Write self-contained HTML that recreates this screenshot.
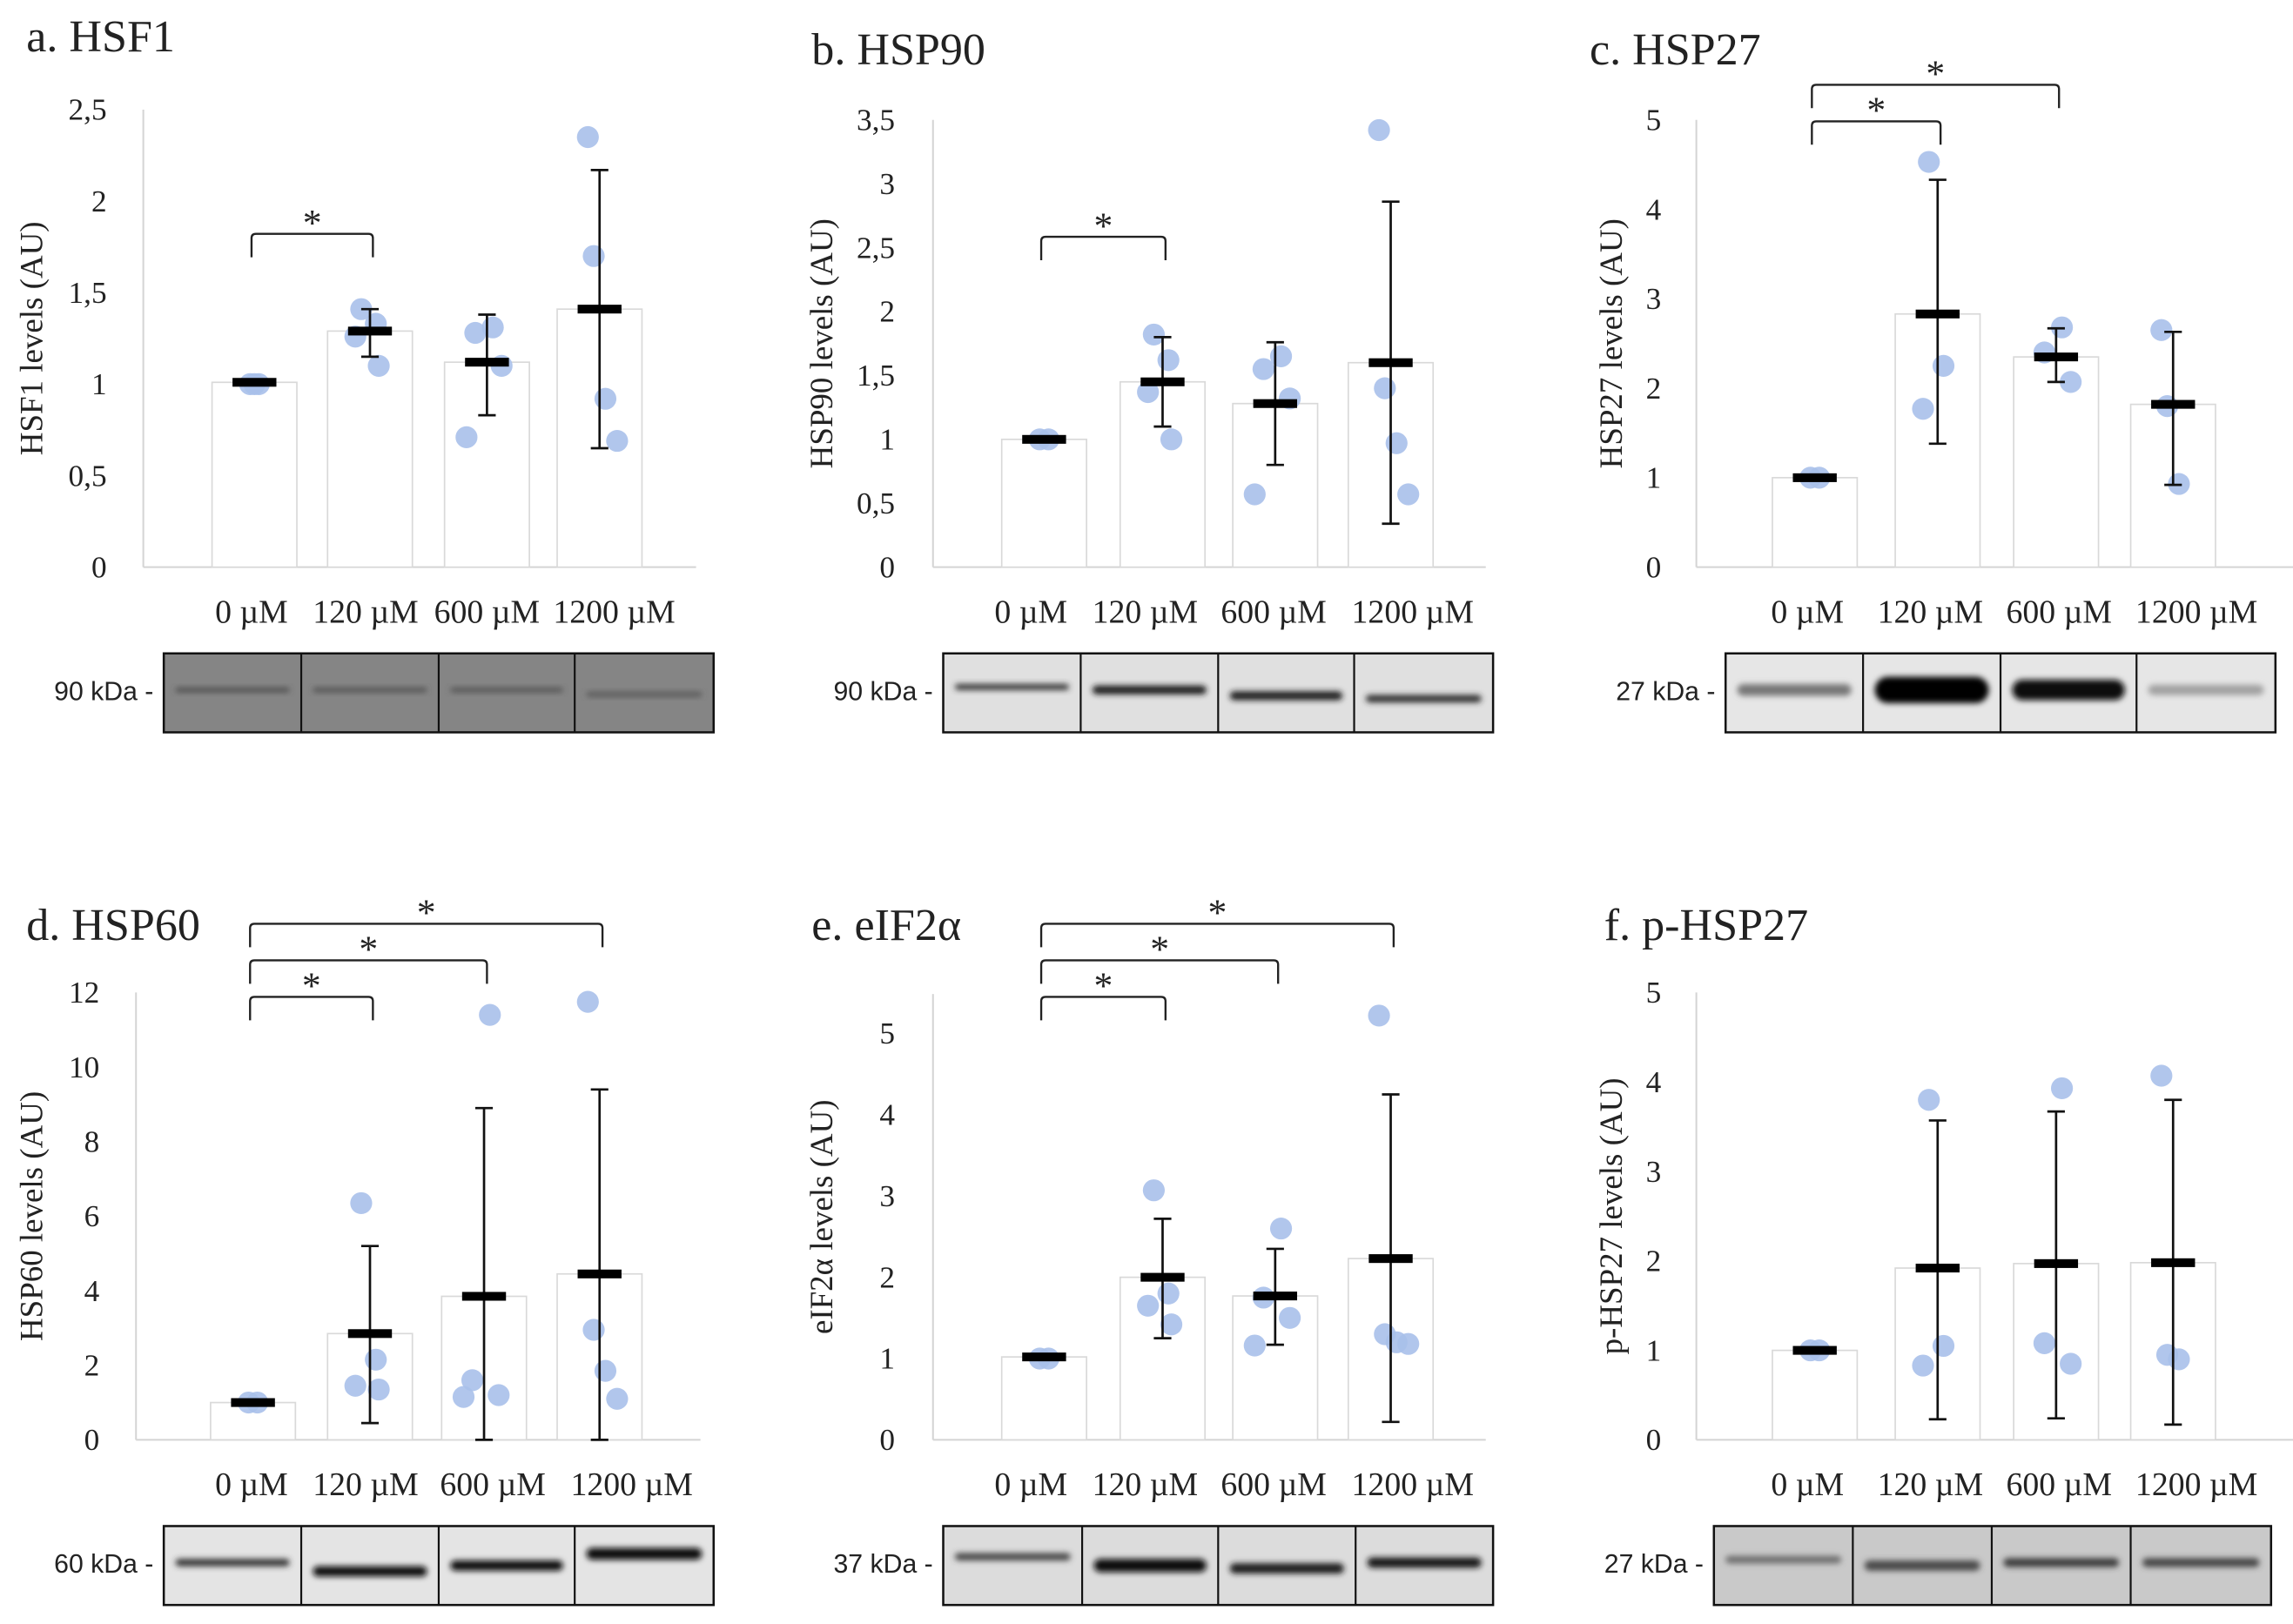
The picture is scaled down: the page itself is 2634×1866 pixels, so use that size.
<!DOCTYPE html>
<html><head><meta charset="utf-8"><style>
html,body{margin:0;padding:0;background:#fff;}
svg{display:block;}
text{font-family:"Liberation Serif",serif;fill:#222;}
.sans{font-family:"Liberation Sans",sans-serif;}
</style></head><body>
<svg id="fig" width="2634" height="1866" viewBox="0 0 1568 1111" preserveAspectRatio="none" xmlns="http://www.w3.org/2000/svg">
<defs><filter id="blur" x="-20%" y="-100%" width="140%" height="300%"><feGaussianBlur stdDeviation="2"/></filter></defs>
</svg>
<script>
const categories = ["0 µM","120 µM","600 µM","1200 µM"];
const titles = ["a. HSF1","b. HSP90","c. HSP27","d. HSP60","e. eIF2α","f. p-HSP27"];
const yTitles = ["HSF1 levels (AU)","HSP90 levels (AU)","HSP27 levels (AU)","HSP60 levels (AU)","eIF2α levels (AU)","p-HSP27 levels (AU)"];
const tickLabelsA = ["0","0,5","1","1,5","2","2,5"];
const tickLabelsB = ["0","0,5","1","1,5","2","2,5","3","3,5"];
const tickLabelsC = ["0","1","2","3","4","5"];
const tickLabelsD = ["0","2","4","6","8","10","12"];
const tickLabelsE = ["0","1","2","3","4","5"];
const tickLabelsF = ["0","1","2","3","4","5"];
const tickValsA = [0,0.5,1,1.5,2,2.5];
const tickValsB = [0,0.5,1,1.5,2,2.5,3,3.5];
const tickValsC = [0,1,2,3,4,5];
const tickValsD = [0,2,4,6,8,10,12];
const tickValsE = [0,1,2,3,4,5];
const tickValsF = [0,1,2,3,4,5];
const meansA = [1.01,1.29,1.12,1.41];
const meansB = [1.0,1.45,1.28,1.6];
const meansC = [1.0,2.83,2.35,1.82];
const meansD = [1.0,2.85,3.85,4.45];
const meansE = [1.02,2.0,1.77,2.23];
const meansF = [1.0,1.92,1.97,1.98];
const errHiA = [1.01,1.41,1.38,2.17];
const errLoA = [1.01,1.15,0.83,0.65];
const errHiB = [1.0,1.8,1.76,2.86];
const errLoB = [1.0,1.1,0.8,0.34];
const errHiC = [1.0,4.33,2.67,2.63];
const errLoC = [1.0,1.38,2.07,0.92];
const errHiD = [1.0,5.2,8.9,9.4];
const errLoD = [1.0,0.45,0,0];
const errHiE = [1.02,2.72,2.35,4.25];
const errLoE = [1.02,1.25,1.17,0.22];
const errHiF = [1.0,3.57,3.67,3.8];
const errLoF = [1.0,0.23,0.24,0.17];
const pointsA = [[1,1,1],[1.41,1.33,1.26,1.1],[1.31,1.28,1.1,0.71],[2.35,1.7,0.92,0.69]];
const pointsB = [[1,1],[1.82,1.62,1.37,1.0],[1.65,1.55,1.32,0.57],[3.42,1.4,0.97,0.57]];
const pointsC = [[1,1],[4.53,2.25,1.77],[2.68,2.4,2.07],[2.65,1.8,0.93]];
const pointsD = [[1,1],[6.35,2.15,1.45,1.35],[11.4,1.6,1.2,1.15],[11.75,2.95,1.85,1.1]];
const pointsE = [[1,1],[3.07,1.8,1.65,1.42],[2.6,1.75,1.5,1.16],[5.22,1.3,1.2,1.18]];
const pointsF = [[1,1],[3.8,1.05,0.83],[3.93,1.08,0.85],[4.07,0.95,0.9]];
const pointDx = [[-3,3,0],[-6,4,-10,6],[4,-8,10,-14],[-8,-4,4,12]];
const sigA = [1];
const sigB = [1];
const sigC = [1,2];
const sigD = [1,2,3];
const sigE = [1,2,3];
const sigF = [];
const kdaLabels = ["90 kDa -","90 kDa -","27 kDa -","60 kDa -","37 kDa -","27 kDa -"];

const NS="http://www.w3.org/2000/svg";
const svg=document.getElementById('fig');
function mk(tag,attrs,parent){const e=document.createElementNS(NS,tag);for(const k in attrs)e.setAttribute(k,attrs[k]);(parent||svg).appendChild(e);return e;}

const layouts=[
 {ax:98,ar:476,y0:388,yTop:75,cx:[174,253,333,410],lx:[172,250,333,420],titleX:18,titleY:35,yT:22,tickX:73,blot:[112,206,300,393,488],by:447,bg:"#858585",band:["#4a4a4a","#4e4e4e","#505050","#555"],bh:[3,3,3,3],bdy:[0,0,0,3]},
 {ax:638,ar:1016,y0:388,yTop:82,cx:[714,795,872,951],lx:[705,783,871,966],titleX:555,titleY:44,yT:562,tickX:612,blot:[645,739,833,926,1021],by:447,bg:"#e0e0e0",band:["#333","#1a1a1a","#1e1e1e","#2a2a2a"],bh:[4,6,6,5],bdy:[-2,0,4,6]},
 {ax:1160,ar:1568,y0:388,yTop:82,cx:[1241,1325,1406,1486],lx:[1236,1320,1408,1502],titleX:1087,titleY:44,yT:1102,tickX:1136,blot:[1180,1274,1368,1461,1556],by:447,bg:"#e6e6e6",band:["#777","#000","#080808","#a0a0a0"],bh:[8,18,14,7],bdy:[0,0,0,0]},
 {ax:93,ar:479,y0:985,yTop:679,cx:[173,253,331,410],lx:[172,250,337,432],titleX:18,titleY:643,yT:22,tickX:68,blot:[112,206,300,393,488],by:1044,bg:"#e4e4e4",band:["#333","#111","#111","#0c0c0c"],bh:[5,7,7,8],bdy:[0,6,2,-6]},
 {ax:638,ar:1016,y0:985,yTop:679,cx:[714,795,872,951],lx:[705,783,871,966],titleX:555,titleY:643,yT:562,tickX:612,blot:[645,740,833,927,1021],by:1044,bg:"#dcdcdc",band:["#444","#0d0d0d","#1a1a1a","#141414"],bh:[5,9,7,7],bdy:[-4,2,4,0]},
 {ax:1160,ar:1568,y0:985,yTop:679,cx:[1241,1325,1406,1486],lx:[1236,1320,1408,1502],titleX:1097,titleY:643,yT:1102,tickX:1136,blot:[1172,1267,1362,1457,1553],by:1044,bg:"#c9c9c9",band:["#6a6a6a","#4a4a4a","#3a3a3a","#454545"],bh:[5,7,6,6],bdy:[-2,2,0,0]}
];
const means=[meansA,meansB,meansC,meansD,meansE,meansF];
const hi=[errHiA,errHiB,errHiC,errHiD,errHiE,errHiF];
const lo=[errLoA,errLoB,errLoC,errLoD,errLoE,errLoF];
const pts=[pointsA,pointsB,pointsC,pointsD,pointsE,pointsF];
const tl=[tickLabelsA,tickLabelsB,tickLabelsC,tickLabelsD,tickLabelsE,tickLabelsF];
const tv=[tickValsA,tickValsB,tickValsC,tickValsD,tickValsE,tickValsF];
const sigs=[sigA,sigB,sigC,sigD,sigE,sigF];
const sigTopY=[[160],[162],[83,58],[682,657,632],[682,657,632],[]];

layouts.forEach((L,p)=>{
  const g=mk('g',{});
  
  
  const tvals=tv[p];
  const topVal=tvals[tvals.length-1];
  const y=v=>L.y0-(v/topVal)*(L.y0-(p==4?707:L.yTop));
  const t=mk('text',{x:L.titleX,y:L.titleY,'font-size':31},g);t.textContent=titles[p];
  
  const axTop=p==4?680:L.yTop;
  const ya=mk('line',{x1:L.ax,y1:axTop,x2:L.ax,y2:L.y0,stroke:'#d4d4d4','stroke-width':1.2},g);
  
  const xa=mk('line',{x1:L.ax,y1:L.y0,x2:L.ar,y2:L.y0,stroke:'#d4d4d4','stroke-width':1.2},g);
  
  tvals.forEach((v,i)=>{const tt=mk('text',{x:L.tickX,y:y(v)+7,'font-size':21,'text-anchor':'end'},g);tt.textContent=tl[p][i];
    });
  const yc=(axTop+L.y0)/2;
  const yt=mk('text',{x:L.yT,y:yc,'font-size':22,'text-anchor':'middle',transform:`rotate(-90 ${L.yT} ${yc})`,dy:7},g);
  yt.textContent=yTitles[p];
  
  categories.forEach((c,i)=>{
    const cx=L.cx[i];
    const b=mk('rect',{x:cx-29,y:y(means[p][i]),width:58,height:L.y0-y(means[p][i]),fill:'#fff',stroke:'#d9d9d9','stroke-width':1},g);
    
    pts[p][i].forEach((v,k)=>{const d=(pointDx[i]&&pointDx[i][k]!==undefined)?pointDx[i][k]:0;
      const cc=mk('circle',{cx:cx+d,cy:y(v),r:7.5,fill:'#a9c0ea','fill-opacity':0.9},g);
      });
    if(hi[p][i]-lo[p][i]>0.01){
      const e=mk('path',{d:`M${cx} ${y(hi[p][i])}V${y(lo[p][i])}M${cx-6} ${y(hi[p][i])}H${cx+6}M${cx-6} ${y(lo[p][i])}H${cx+6}`,stroke:'#111','stroke-width':1.6,fill:'none'},g);
      
    }
    const m=mk('rect',{x:cx-15,y:y(means[p][i])-3,width:30,height:6,fill:'#000'},g);
    
    const lb=mk('text',{x:L.lx[i],y:p<3?426:1023,'font-size':22.5,'text-anchor':'middle'},g);lb.textContent=c;
    
  });
  sigs[p].forEach((j,k)=>{
    const ty=sigTopY[p][k];const x1=L.cx[0]-2,x2=L.cx[j]+2;
    const br=mk('path',{d:`M${x1} ${ty+16}V${ty+3}Q${x1} ${ty} ${x1+3} ${ty}H${x2-3}Q${x2} ${ty} ${x2} ${ty+3}V${ty+16}`,stroke:'#222','stroke-width':1.4,fill:'none'},g);
    
    const st=mk('text',{x:(x1+x2)/2,y:ty+1,'font-size':26,'text-anchor':'middle'},g);st.textContent='*';
    
  });
  const bl=mk('g',{},g);
  const bx=L.blot;
  mk('rect',{x:bx[0],y:L.by,width:bx[4]-bx[0],height:54,fill:L.bg,stroke:'#111','stroke-width':1.5},bl);
  for(let i=0;i<4;i++){
    mk('rect',{x:bx[i]+8,y:L.by+25+L.bdy[i]-L.bh[i]/2,width:bx[i+1]-bx[i]-16,height:L.bh[i],rx:L.bh[i]/2,fill:L.band[i],filter:'url(#blur)'},bl);
    if(i>0)mk('line',{x1:bx[i],y1:L.by,x2:bx[i],y2:L.by+54,stroke:'#111','stroke-width':1.3},bl);
  }
  const kd=mk('text',{x:bx[0]-7,y:L.by+32,'font-size':18,'text-anchor':'end','class':'sans'},g);kd.textContent=kdaLabels[p];
  
});
</script>
</body></html>
